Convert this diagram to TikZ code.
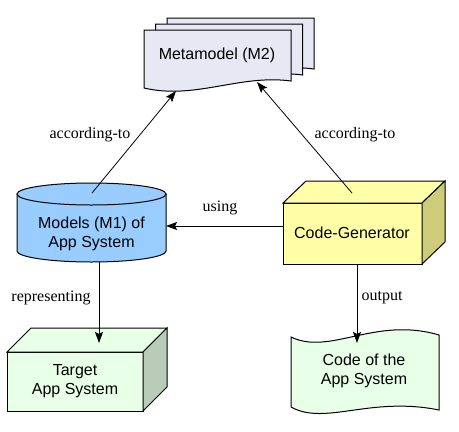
\documentclass[tikz,border=0pt]{standalone}
\usepackage{fontspec}
\setmainfont{Liberation Serif}
\newfontfamily\arialfont{Liberation Sans}
\usetikzlibrary{arrows.meta}
\definecolor{pagefill}{RGB}{232,232,244}
\definecolor{cylfill}{RGB}{153,204,255}
\definecolor{yelfront}{RGB}{255,255,168}
\definecolor{yelside}{RGB}{204,204,122}
\definecolor{grnfront}{RGB}{232,255,232}
\definecolor{grnside}{RGB}{184,204,184}
\begin{document}
\begin{tikzpicture}[x=1pt,y=-1pt,
  shapeline/.style={draw=black, line width=1pt, line join=miter},
  conn/.style={draw=black, line width=0.8pt, -{Stealth[length=11pt,width=8pt,inset=2pt]}},
  boxtext/.style={font=\arialfont\fontsize{16}{19}\selectfont, align=center, text=black, inner sep=0pt},
  edgetext/.style={font=\fontsize{16}{19}\selectfont, inner sep=0pt}]
\useasboundingbox[fill=white] (0,0) rectangle (459,432);

% Metamodel pages
\foreach \dx/\dy in {23/-12, 11.5/-6, 0/0}{
  \begin{scope}[shift={(\dx,\dy)}]
    \path[shapeline, fill=pagefill] (144,30) -- (291,30) -- (291,81)
      .. controls (240,74) and (195,100) .. (144,88) -- cycle;
  \end{scope}
}
\node[boxtext] (meta) at (217,55) {Metamodel (M2)};
\coordinate (metaL) at (176,91);
\coordinate (metaR) at (257,82);

% Cylinder
\path[shapeline, fill=cylfill] (17,194) -- (17,251)
  arc[start angle=180, end angle=360, x radius=74.5pt, y radius=11pt] -- (166,194) -- cycle;
\path[shapeline, fill=cylfill] (91.5,194) ellipse[x radius=74.5pt, y radius=11pt];
\node[boxtext] (models) at (91.5,234) {Models (M1) of\\App System};
\coordinate (cylTop) at (92,193);
\coordinate (cylRight) at (166,226);
\coordinate (cylBot) at (99,262);

% Code-Generator box
\path[shapeline, fill=yelfront] (283,203) rectangle (422,264);
\path[shapeline, fill=yelfront] (283,203) -- (306,181) -- (445,181) -- (422,203) -- cycle;
\path[shapeline, fill=yelside] (422,203) -- (445,181) -- (445,242) -- (422,264) -- cycle;
\node[boxtext] (gen) at (352,233) {Code-Generator};
\coordinate (genTop) at (352,193);
\coordinate (genLeft) at (283,226);
\coordinate (genBot) at (357,264);

% Target App System box
\path[shapeline, fill=grnfront] (7,352) rectangle (143,411);
\path[shapeline, fill=grnfront] (7,352) -- (31,328) -- (167,328) -- (143,352) -- cycle;
\path[shapeline, fill=grnside] (143,352) -- (167,328) -- (167,387) -- (143,411) -- cycle;
\node[boxtext] (target) at (75,381) {Target\\App System};
\coordinate (targetTop) at (99,343);

% Code of the App System (tape)
\path[shapeline, fill=grnfront] (291,337)
  .. controls (330,356) and (375,316) .. (439,335) -- (439,410)
  .. controls (370,396) and (325,426) .. (291,407) -- cycle;
\node[boxtext] (code) at (364,371) {Code of the\\App System};
\coordinate (codeTop) at (357,343);

% Connectors
\draw[conn] (cylTop) -- (metaL);
\draw[conn] (genTop) -- (metaR);
\draw[conn] (genLeft) -- (cylRight);
\draw[conn] (cylBot) -- (targetTop);
\draw[conn] (genBot) -- (codeTop);

% Edge labels
\node[edgetext] (l1) at (90,135) {according-to};
\node[edgetext] (l2) at (355,135) {according-to};
\node[edgetext] (l3) at (220,208) {using};
\node[edgetext] (l4) at (51,298) {representing};
\node[edgetext] (l5) at (382,298) {output};
\end{tikzpicture}
\end{document}
